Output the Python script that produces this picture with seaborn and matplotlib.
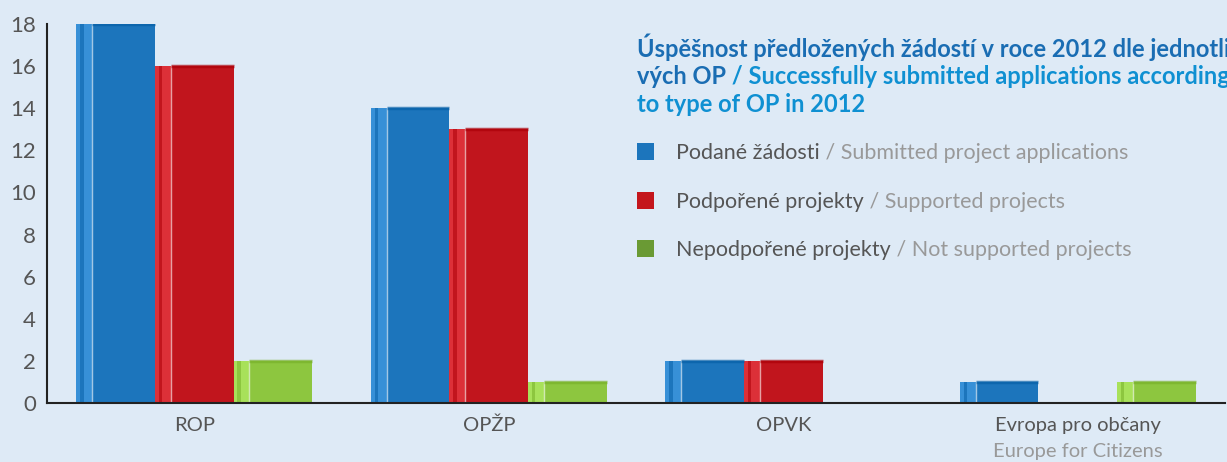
import pandas as pd
import matplotlib.pyplot as plt
import seaborn as sns
from matplotlib.patches import Rectangle

# Data
categories = ["ROP", "OPŽP", "OPVK", "Evropa pro občany"]
submitted = [18, 14, 2, 1]
supported = [16, 13, 2, 0]
not_supported = [2, 1, 0, 1]

series_cz = ["Podané žádosti", "Podpořené projekty", "Nepodpořené projekty"]
series_en = ["Submitted project applications", "Supported projects", "Not supported projects"]
bar_colors = ["#1c75bc", "#c1151d", "#8dc63f"]
legend_colors = ["#1c75bc", "#c4161c", "#6a9a34"]
yticks = [0, 2, 4, 6, 8, 10, 12, 14, 16, 18]

df = pd.DataFrame({
    "category": categories * 3,
    "series": [s for s in series_cz for _ in categories],
    "value": submitted + supported + not_supported,
})

bg = "#deeaf6"
sns.set_style("white")
plt.rcParams["font.family"] = ["Lato", "DejaVu Sans"]

fig = plt.figure(figsize=(12.27, 4.62), dpi=100, facecolor=bg)
ax = fig.add_axes([47 / 1227, 1 - 403 / 462, 1178 / 1227, 379 / 462])
ax.set_facecolor(bg)

sns.barplot(data=df, x="category", y="value", hue="series", palette=bar_colors,
            saturation=1, width=0.8, ax=ax, legend=False, linewidth=0)

# fake 3D look: lighter strip on the left and a top edge
for p in ax.patches:
    h = p.get_height()
    if h <= 0:
        continue
    x, w = p.get_x(), p.get_width()
    c = p.get_facecolor()
    light = tuple(min(1, v + 0.18) for v in c[:3])
    dark = tuple(max(0, v - 0.08) for v in c[:3])
    ax.add_patch(Rectangle((x, 0), w * 0.2, h, facecolor=light, edgecolor="none", alpha=0.6))
    ax.add_patch(Rectangle((x + w * 0.05, 0), w * 0.04, h, facecolor=c, edgecolor="none"))
    ax.plot([x + w * 0.2, x + w * 0.2], [0, h], color="white", lw=1, alpha=0.6)
    ax.plot([x + w * 0.2, x + w], [h, h], color=dark, lw=2.5, alpha=0.7, solid_capstyle="butt")

ax.set_ylim(0, 18)
ax.set_xlim(-0.5, 3.5)
ax.set_yticks(yticks)
ax.set_xlabel("")
ax.set_ylabel("")

for s in ["top", "right"]:
    ax.spines[s].set_visible(False)
for s in ["left", "bottom"]:
    ax.spines[s].set_color("#222222")
    ax.spines[s].set_linewidth(1.5)

ax.tick_params(axis="y", direction="in", length=21, width=1.5, color="#222222",
               labelsize=16, labelcolor="#555555", pad=8)
ax.tick_params(axis="x", which="major", length=0, labelsize=14.5, labelcolor="#555555", pad=10)
ax.set_xticks([0.5, 1.5, 2.5, 3.5], minor=True)
ax.tick_params(axis="x", which="minor", direction="in", length=7, width=1.2, color="#222222")

ax.annotate("Europe for Citizens", xy=(3, 0), xycoords=("data", "axes fraction"),
            xytext=(0, -35), textcoords="offset points", ha="center", va="center",
            fontsize=14.5, color="#999999", annotation_clip=False)

# title (runs off the right edge like the original)
dark_blue = "#1a6db3"
light_blue = "#0f90d2"
tx = 637 / 1227
t1 = fig.text(tx, 1 - 47 / 462, "Úspěšnost předložených žádostí v roce 2012 dle jednotli",
              fontsize=17, fontweight="bold", color=dark_blue, va="center")
t2 = fig.text(tx, 1 - 76 / 462, "vých OP", fontsize=17, fontweight="bold",
              color=dark_blue, va="center")
ax.annotate(" / Successfully submitted applications according", xy=(1, 0), xycoords=t2,
            va="bottom", fontsize=17, fontweight="bold", color=light_blue, annotation_clip=False)
fig.text(tx, 1 - 104 / 462, "to type of OP in 2012", fontsize=17, fontweight="bold",
         color=light_blue, va="center")

# legend
leg_y = [152, 201, 249]
for cz, en, col, yy in zip(series_cz, series_en, legend_colors, leg_y):
    fig.patches.append(Rectangle((637 / 1227, 1 - (yy + 8) / 462), 17 / 1227, 17 / 462,
                                 transform=fig.transFigure, facecolor=col, edgecolor="none"))
    t = fig.text(676 / 1227, 1 - (yy + 1) / 462, cz, fontsize=15.5, color="#555555", va="center")
    ax.annotate(" / " + en, xy=(1, 0), xycoords=t, va="bottom", fontsize=15.5,
                color="#999999", annotation_clip=False)

fig.savefig("out.png", dpi=100, facecolor=bg)
